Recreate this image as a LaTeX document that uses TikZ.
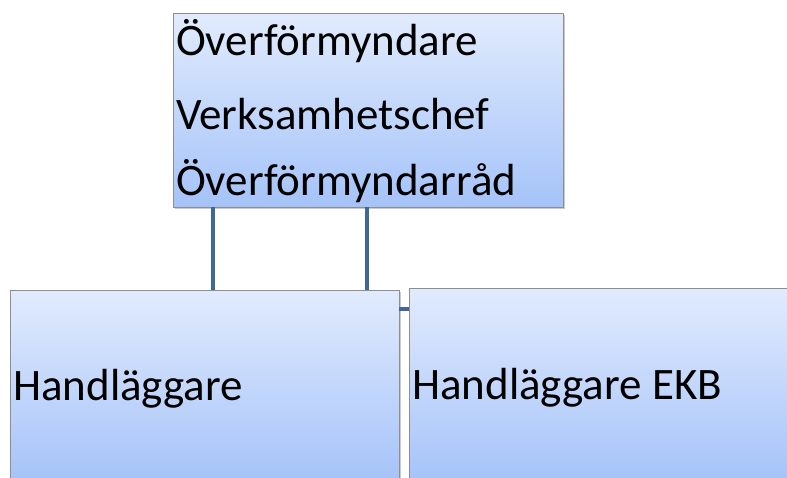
\documentclass[tikz,border=0pt]{standalone}
\usepackage{fontspec}
\setmainfont{Carlito}
\usetikzlibrary{shadows}
\definecolor{boxtop}{HTML}{E1EBFD}
\definecolor{boxbot}{HTML}{A5C3F9}
\definecolor{boxedge}{HTML}{8E8E8E}
\definecolor{linkcol}{HTML}{40679A}
\tikzset{
  orgbox/.style={rectangle, draw=boxedge, line width=0.8pt, top color=boxtop, bottom color=boxbot,
    inner sep=0pt, outer sep=0pt, anchor=north west,
    drop shadow={shadow xshift=2pt, shadow yshift=-2pt, opacity=0.35, fill=black!60}},
  link/.style={draw=linkcol, line width=4pt},
  lbl/.style={anchor=base west, inner sep=0pt, font=\fontsize{45}{54}\selectfont}
}
\begin{document}
\begin{tikzpicture}[x=1pt,y=-1pt]
\useasboundingbox (0,0) rectangle (787,477);
\coordinate (c1) at (213,0);
\coordinate (c2) at (367,0);
\coordinate (h) at (0,309);
\node[orgbox, minimum width=390pt, minimum height=194pt] (top) at (173,13) {};
\node[orgbox, minimum width=389pt, minimum height=192pt] (left) at (10,290) {};
\node[orgbox, minimum width=386pt, minimum height=194pt] (right) at (409,288) {};
\draw[link] (top.south -| c1) -- (left.north -| c1);
\draw[link] (top.south -| c2) -- (left.north -| c2);
\draw[link] (left.east |- h) -- (right.west |- h);
\node[lbl] (t1) at (176,55) {Överförmyndare};
\node[lbl] (t2) at (176,129) {Verksamhetschef};
\node[lbl] (t3) at (176,195) {Överförmyndarråd};
\node[lbl] (t4) at (13,400) {Handläggare};
\node[lbl] (t5) at (412,399) {Handläggare EKB};
\end{tikzpicture}
\end{document}
